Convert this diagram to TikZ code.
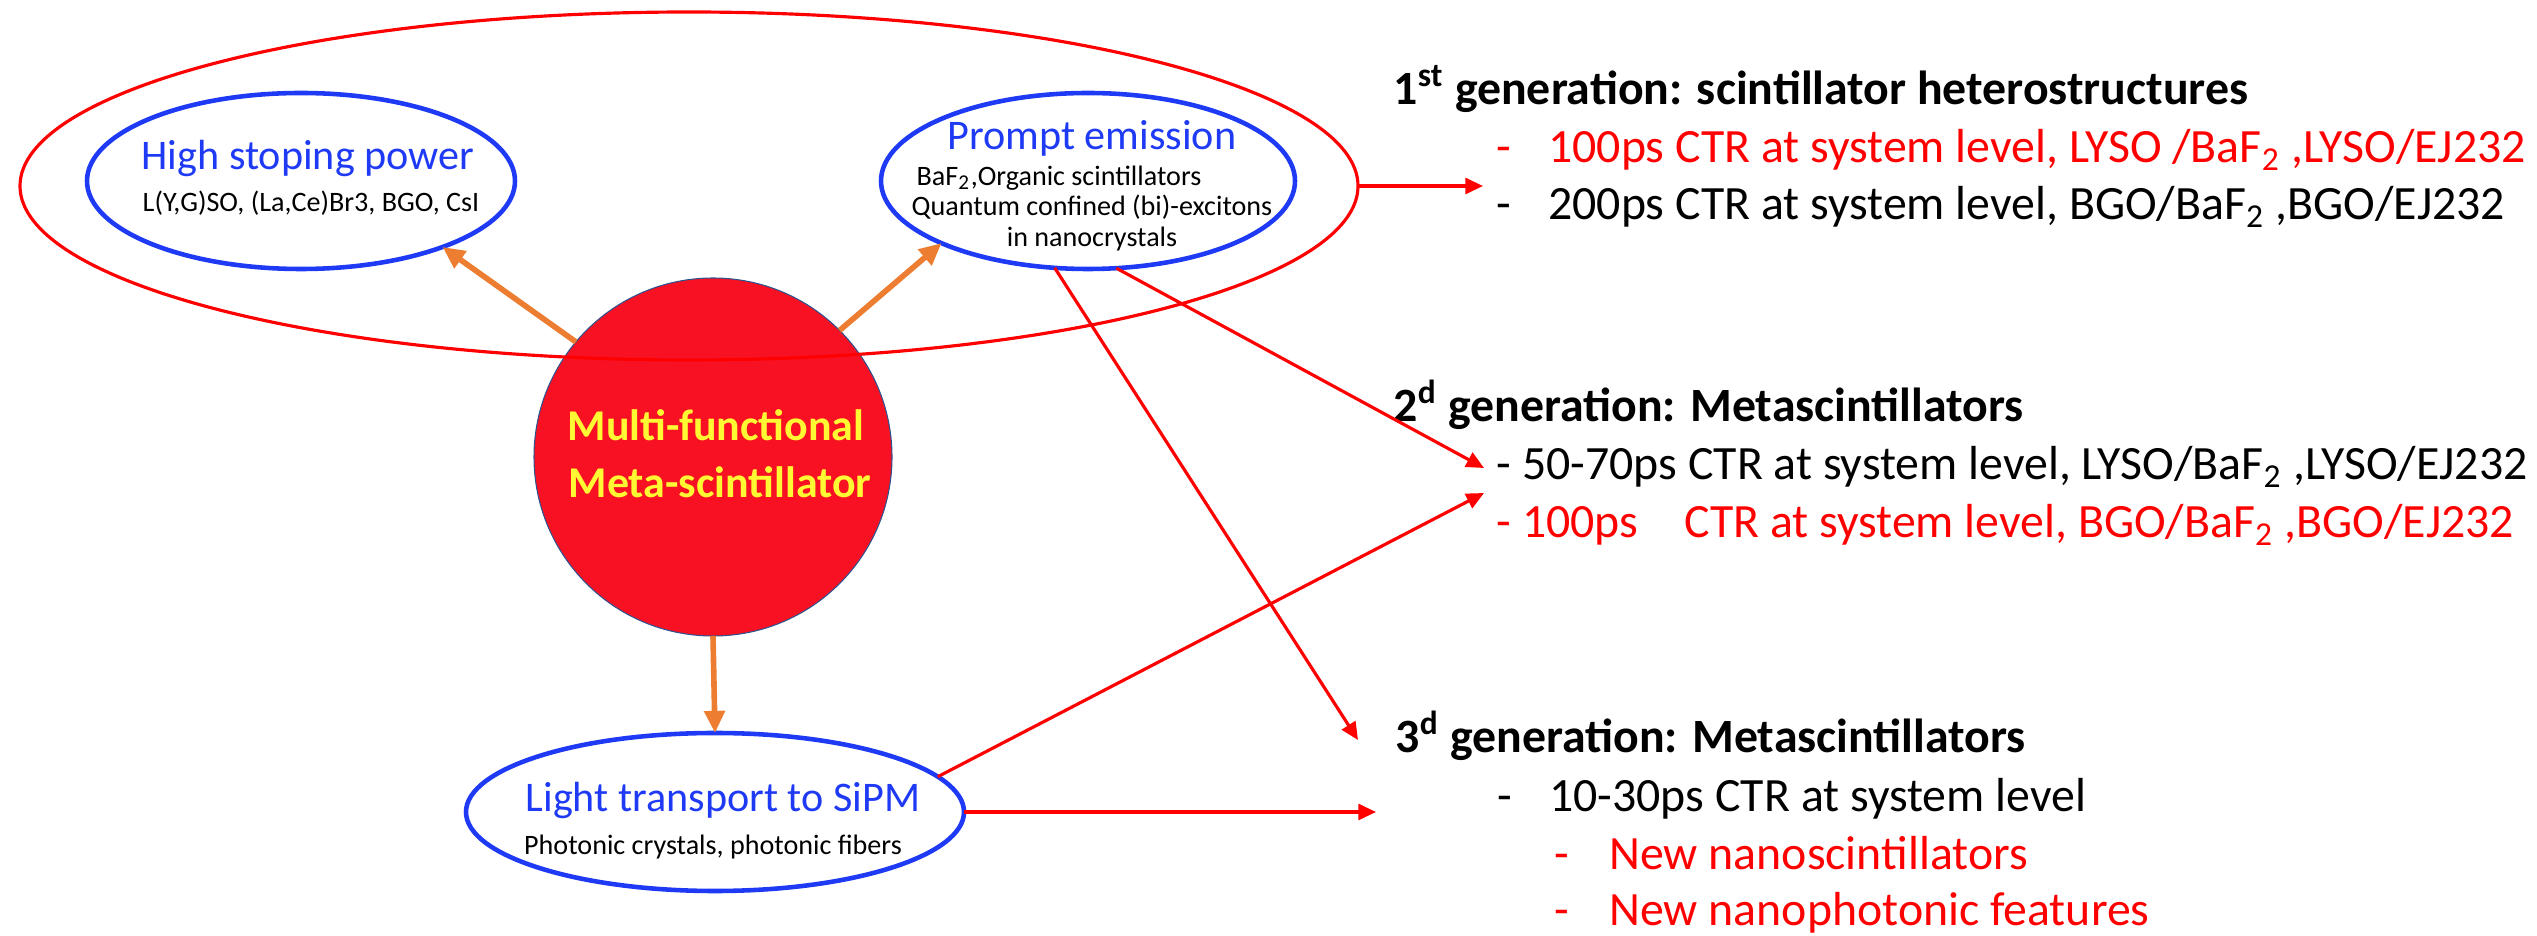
\documentclass[tikz,border=0pt]{standalone}
\usepackage{fontspec}
\setmainfont{Carlito}
\usetikzlibrary{shapes.geometric,arrows.meta}

\definecolor{pptred}{HTML}{FF0000}
\definecolor{pptorange}{HTML}{ED7D31}
\definecolor{bubbleblue}{HTML}{1F3AF5}
\definecolor{ballred}{HTML}{F81122}
\definecolor{ballline}{HTML}{2F528F}
\definecolor{ballyellow}{HTML}{FFF933}

\begin{document}
\begin{tikzpicture}[
  bubble/.style={ellipse, draw=bubbleblue, line width=1.3pt, inner sep=0pt, outer sep=0pt},
  bubbletitle/.style={anchor=base, inner sep=0pt, text=bubbleblue, font=\fontsize{12}{14}\selectfont},
  bubblesub/.style={anchor=base, inner sep=0pt, font=\fontsize{8}{10}\selectfont},
  balltext/.style={anchor=base, inner sep=0pt, text=ballyellow, font=\fontsize{12.5}{15}\bfseries},
  headtext/.style={anchor=base west, inner sep=0pt, font=\fontsize{13.6}{16}\bfseries},
  itemtext/.style={anchor=base west, inner sep=0pt, font=\fontsize{13.6}{16}\selectfont},
  redarrow/.style={draw=pptred, line width=0.9pt, -{Triangle[length=5pt,width=4.5pt]}},
  orangearrow/.style={draw=pptorange, line width=1.6pt, -{Triangle[length=6.3pt,width=5.7pt]}}
]
  % Fix the canvas to the crop of the slide
  \useasboundingbox (0,0) rectangle (25.37,-9.36);

  % Central ball
  \node[circle, fill=ballred, draw=ballline, line width=0.3pt, minimum size=3.58cm, inner sep=0pt, outer sep=0pt] (meta) at (7.13,-4.57) {};
  \node[balltext] (metaA) at (7.16,-4.41) {Multi-functional};
  \node[balltext] (metaB) at (7.20,-4.98) {Meta-scintillator};

  % Ellipse grouping the first generation
  \node[ellipse, draw=pptred, line width=0.9pt, minimum width=13.38cm, minimum height=3.48cm, inner sep=0pt, outer sep=0pt] (grp) at (6.89,-1.86) {};

  % Property bubbles
  \node[bubble, minimum width=4.28cm, minimum height=1.76cm] (hsp) at (3.01,-1.81) {};
  \node[bubbletitle] (hspT) at (3.08,-1.70) {High stoping power};
  \node[bubblesub] (hspS) at (3.11,-2.12) {L(Y,G)SO, (La,Ce)Br3, BGO, CsI};

  \node[bubble, minimum width=4.14cm, minimum height=1.76cm] (pe) at (10.88,-1.81) {};
  \node[bubbletitle] (peT) at (10.92,-1.50) {Prompt emission};
  \node[bubblesub] (peA) at (10.59,-1.86) {BaF\textsubscript{2},Organic scintillators};
  \node[bubblesub] (peB) at (10.92,-2.16) {Quantum confined (bi)-excitons};
  \node[bubblesub] (peC) at (10.92,-2.47) {in nanocrystals};

  \node[bubble, minimum width=4.98cm, minimum height=1.58cm] (light) at (7.15,-8.12) {};
  \node[bubbletitle] (lightT) at (7.23,-8.11) {Light transport to SiPM};
  \node[bubblesub] (lightS) at (7.13,-8.54) {Photonic crystals, photonic fibers};

  % Orange arrows out of the ball
  \draw[orangearrow] (meta.140) -- (hsp.-25);
  \draw[orangearrow] (meta.45) -- (pe.-157);
  \draw[orangearrow] (meta.south) -- (light.north);

  % Generations
  \node[headtext] (g1h) at (13.93,-1.05) {1\textsuperscript{st} generation: scintillator heterostructures};
  \node[itemtext, text=pptred] (g1a) at (14.96,-1.63) {-\hspace{0.37cm}100ps CTR at system level, LYSO /BaF\textsubscript{2} ,LYSO/EJ232};
  \node[itemtext] (g1b) at (14.96,-2.20) {-\hspace{0.37cm}200ps CTR at system level, BGO/BaF\textsubscript{2} ,BGO/EJ232};

  \node[headtext] (g2h) at (13.93,-4.22) {2\textsuperscript{d} generation: Metascintillators};
  \node[itemtext] (g2a) at (14.96,-4.80) {- 50-70ps CTR at system level, LYSO/BaF\textsubscript{2} ,LYSO/EJ232};
  \node[itemtext, text=pptred] (g2b) at (14.96,-5.38) {- 100ps\hspace{0.46cm}CTR at system level, BGO/BaF\textsubscript{2} ,BGO/EJ232};

  \node[headtext] (g3h) at (13.95,-7.53) {3\textsuperscript{d} generation: Metascintillators};
  \node[itemtext] (g3a) at (14.97,-8.11) {-\hspace{0.37cm}10-30ps CTR at system level};
  \node[itemtext, text=pptred] (g3b) at (15.54,-8.69) {-\hspace{0.40cm}New nanoscintillators};
  \node[itemtext, text=pptred] (g3c) at (15.54,-9.26) {-\hspace{0.40cm}New nanophotonic features};

  % Red arrows to the generations
  \coordinate (g1in) at (14.83,-1.86);
  \coordinate (g2inA) at (14.84,-4.68);
  \coordinate (g2inB) at (14.84,-4.93);
  \coordinate (g3inA) at (13.58,-7.40);
  \coordinate (g3inB) at (13.76,-8.12);

  \draw[redarrow] (grp.east) -- (g1in);
  \draw[redarrow] (pe.-72) -- (g2inA);
  \draw[redarrow] (pe.-111) -- (g3inA);
  \draw[redarrow] (light.9) -- (g2inB);
  \draw[redarrow] (light.east) -- (g3inB);

\end{tikzpicture}
\end{document}
